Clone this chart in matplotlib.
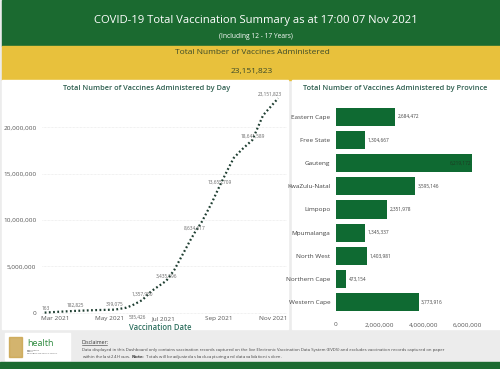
import matplotlib
matplotlib.use("Agg")
import matplotlib.pyplot as plt
import matplotlib.dates as mdates
import pandas as pd
from matplotlib.patches import Rectangle

plt.rcParams['font.family'] = ['Open Sans', 'DejaVu Sans']

# ---------------- data ----------------
title = "COVID-19 Total Vaccination Summary as at 17:00 07 Nov 2021"
subtitle = "(Including 12 - 17 Years)"
total_label = "Total Number of Vaccines Administered"
total_value = 23151823

dates = ["2021-02-17", "2021-03-01", "2021-03-23", "2021-04-15", "2021-05-07",
         "2021-05-17", "2021-05-20", "2021-05-27", "2021-06-07", "2021-06-17",
         "2021-07-04", "2021-07-13", "2021-07-22", "2021-07-31", "2021-08-05",
         "2021-08-13", "2021-08-24", "2021-09-02", "2021-09-11", "2021-09-18",
         "2021-09-27", "2021-10-09", "2021-10-21", "2021-11-07"]
cumulative = [163, 70000, 182825, 270000, 319075,
              480000, 535426, 800000, 1357950, 2300000,
              3435596, 4600000, 6200000, 7800000, 8634617,
              9800000, 11800000, 13655709, 15400000, 16700000,
              17600000, 18641589, 21300000, 23151823]
labelled = ["2021-02-17", "2021-03-23", "2021-05-07", "2021-05-20", "2021-06-07",
            "2021-07-04", "2021-08-05", "2021-09-02", "2021-10-09", "2021-11-07"]

provinces = ["Eastern Cape", "Free State", "Gauteng", "KwaZulu-Natal", "Limpopo",
             "Mpumalanga", "North West", "Northern Cape", "Western Cape"]
province_values = [2684472, 1304667, 6219172, 3595146, 2351978,
                   1345337, 1403981, 473154, 3773916]

# ---------------- figure ----------------
W, H = 500, 369
fig = plt.figure(figsize=(5, 3.69), dpi=100)
fig.patch.set_facecolor("#ececec")

bg = fig.add_axes([0, 0, 1, 1], zorder=0)
bg.set_xlim(0, W)
bg.set_ylim(H, 0)
bg.axis("off")

GREEN = "#1b6a30"
YELLOW = "#e8c13c"
bg.add_patch(Rectangle((2, 0), W, 46, color=GREEN))
bg.add_patch(Rectangle((2, 46), W, 34, color=YELLOW))
bg.add_patch(Rectangle((2, 80), 286, 249, color="white"))
bg.add_patch(Rectangle((292, 80), 208, 249, color="white"))
bg.add_patch(Rectangle((0, 362), W, 7, color=GREEN))
bg.add_patch(Rectangle((5, 333), 65, 27, color="white"))

bg.text(256, 20, title, color="white", fontsize=8.1, ha="center", va="center")
bg.text(256, 37, subtitle, color="white", fontsize=4.8, ha="center", va="center")
bg.text(252, 53, total_label, color="#3b4a2a", fontsize=6, ha="center", va="center")
bg.text(252, 71, f"{total_value:,}", color="#3b4a2a", fontsize=6, ha="center", va="center")

bg.text(147, 88, "Total Number of Vaccines Administered by Day", color="#2e5f50",
        fontsize=5.3, ha="center", va="center", fontweight="semibold")
bg.text(160, 327, "Vaccination Date", color="#2e6f5f", fontsize=5.5,
        ha="center", va="center", fontweight="semibold")
bg.text(395, 88, "Total Number of Vaccines Administered by Province", color="#2e5f50",
        fontsize=5.3, ha="center", va="center", fontweight="semibold")

# footer
bg.text(27, 343, "health", color="#2d8a3e", fontsize=6.5, ha="left", va="center")
bg.text(27, 352, "Department:\nHealth\nREPUBLIC OF SOUTH AFRICA", color="#555555",
        fontsize=1.6, ha="left", va="center", linespacing=1.2)
bg.add_patch(Rectangle((9, 337), 13, 20, color="#c9a24a", alpha=0.8))
bg.text(82, 342, "Disclaimer:", color="#333333", fontsize=3.8, ha="left", va="center")
bg.plot([82, 107], [345, 345], color="#333333", lw=0.4)
bg.text(82, 350, "Data displayed in this Dashboard only contains vaccination records captured on the live "
        "Electronic Vaccination Data System (EVDS) and excludes vaccination records captured on paper",
        color="#444444", fontsize=3.1, ha="left", va="center")
bg.text(82, 357, "within the last 24 Hours. $\\bf{Note}$:  Totals will be adjusted as back-capturing "
        "and data validation is done.", color="#444444", fontsize=3.1, ha="left", va="center")

# ---------------- line chart ----------------
def fx(px):
    return px / W

def fy(py):
    return 1 - py / H

ax = fig.add_axes([fx(42), fy(314), fx(287) - fx(42), fy(95) - fy(314)], zorder=2)
ax.patch.set_alpha(0)
d = pd.to_datetime(dates)
ax.plot(d, cumulative, color="#1d3d30", lw=1.6, ls=(0, (0.8, 1.1)))
ax.set_xlim(pd.Timestamp("2021-02-14"), pd.Timestamp("2021-11-17"))
ax.set_ylim(-150000, 23500000)
ax.set_yticks([0, 5000000, 10000000, 15000000, 20000000])
ax.set_yticklabels(["0", "5,000,000", "10,000,000", "15,000,000", "20,000,000"])
ax.set_xticks(pd.to_datetime(["2021-03-01", "2021-05-01", "2021-07-01", "2021-09-01", "2021-11-01"]))
ax.xaxis.set_major_formatter(mdates.DateFormatter("%b %Y"))
ax.tick_params(length=0, labelsize=4.6, colors="#555555", pad=4)
ax.tick_params(axis="x", pad=1.5)
ax.grid(axis="y", color="#e4e4e4", lw=0.5, ls=(0, (1, 1)))
for s in ax.spines.values():
    s.set_visible(False)

offsets = {"2021-02-17": (1, 3), "2021-03-23": (0, 4), "2021-05-07": (0, 4),
           "2021-05-20": (8, -7), "2021-06-07": (0, 4), "2021-07-04": (0, 3),
           "2021-08-05": (0, 3), "2021-09-02": (0, 3), "2021-10-09": (0, 3),
           "2021-11-07": (-6, 3)}
for ds, v in zip(dates, cumulative):
    if ds in labelled:
        ox, oy = offsets[ds]
        ax.annotate(f"{v:,}", (pd.Timestamp(ds), v), xytext=(ox, oy), textcoords="offset points",
                    ha="center", va="center", fontsize=3.4, color="#666666")

# ---------------- bar chart ----------------
bx = fig.add_axes([fx(336), fy(314), fx(481) - fx(336), fy(105) - fy(314)], zorder=2)
bx.patch.set_alpha(0)
ypos = list(range(len(provinces)))
bx.barh(ypos, province_values, height=0.78, color="#0f6a32")
bx.set_ylim(len(provinces) - 0.5, -0.5)
bx.set_xlim(0, 6630000)
bx.set_yticks(ypos)
bx.set_yticklabels(provinces)
bx.set_xticks([0, 2000000, 4000000, 6000000])
bx.set_xticklabels(["0", "2,000,000", "4,000,000", "6,000,000"])
bx.tick_params(length=0, labelsize=4.6, colors="#444444", pad=4)
bx.tick_params(axis="x", pad=6, colors="#555555")
for s in bx.spines.values():
    s.set_visible(False)
for y, v in zip(ypos, province_values):
    if v > 5000000:
        bx.text(v - 60000, y, f"{v:,}", ha="right", va="center", fontsize=3.4, color="#1d3a22")
    else:
        bx.text(v + 120000, y, f"{v:,}", ha="left", va="center", fontsize=3.4, color="#444444")

fig.savefig("out.png", dpi=100, facecolor=fig.get_facecolor())
